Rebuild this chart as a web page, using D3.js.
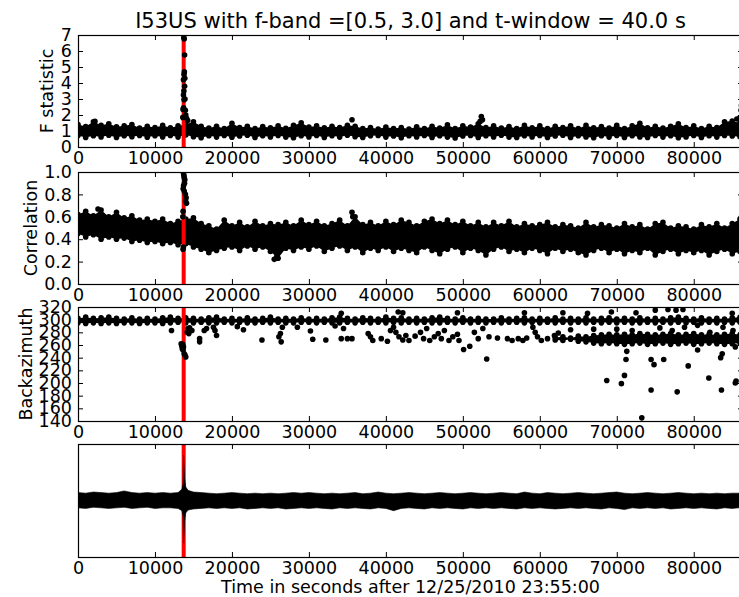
<!DOCTYPE html>
<html>
<head>
<meta charset="utf-8">
<script src="https://cdn.jsdelivr.net/npm/d3@7"></script>
<style>
body { margin: 0; background: #fff; }
svg text { font-family: "DejaVu Sans", sans-serif; fill: #000; }
.tick text { font-size: 17.5px; }
.tick line { stroke: #000; }
</style>
</head>
<body>
<div id="chart"></div>
<script>
// ---- data ----
var title = "I53US with f-band =[0.5, 3.0] and t-window = 40.0 s";
var xLabel = "Time in seconds after 12/25/2010 23:55:00";
var eventTime = 13730;

var xTicks = [0, 10000, 20000, 30000, 40000, 50000, 60000, 70000, 80000];
var fTicks = [0, 1, 2, 3, 4, 5, 6, 7];
var corrTicks = [0, 0.2, 0.4, 0.6, 0.8, 1.0];
var bazTicks = [140, 160, 180, 200, 220, 240, 260, 280, 300, 320];

// times of the envelope samples of the dense dot bands (s)
var sampleTimes = [
    0, 1000, 2000, 3000, 4000, 5000, 6000, 7000, 8000, 9000,
    10000, 11000, 12000, 13000, 14000, 15000, 16000, 17000, 18000, 19000,
    20000, 21000, 22000, 23000, 24000, 25000, 26000, 27000, 28000, 29000,
    30000, 31000, 32000, 33000, 34000, 35000, 36000, 37000, 38000, 39000,
    40000, 41000, 42000, 43000, 44000, 45000, 46000, 47000, 48000, 49000,
    50000, 51000, 52000, 53000, 54000, 55000, 56000, 57000, 58000, 59000,
    60000, 61000, 62000, 63000, 64000, 65000, 66000, 67000, 68000, 69000,
    70000, 71000, 72000, 73000, 74000, 75000, 76000, 77000, 78000, 79000,
    80000, 81000, 82000, 83000, 84000, 85000, 86000
];

// F statistic: top and bottom of the dense band
var fUpper = [
    1.40, 1.28, 1.58, 1.36, 1.45, 1.27, 1.33, 1.40, 1.18, 1.30,
    1.22, 1.35, 1.20, 1.32, 1.40, 1.58, 1.30, 1.18, 1.30, 1.15,
    1.48, 1.22, 1.30, 1.15, 1.28, 1.20, 1.33, 1.17, 1.35, 1.52,
    1.25, 1.32, 1.20, 1.30, 1.22, 1.36, 1.30, 1.15, 1.22, 1.12,
    1.25, 1.15, 1.22, 1.12, 1.26, 1.15, 1.30, 1.18, 1.38, 1.16,
    1.33, 1.25, 1.45, 1.22, 1.32, 1.18, 1.28, 1.15, 1.35, 1.20,
    1.32, 1.15, 1.30, 1.22, 1.33, 1.15, 1.35, 1.20, 1.28, 1.18,
    1.35, 1.15, 1.32, 1.48, 1.20, 1.30, 1.18, 1.30, 1.45, 1.22,
    1.32, 1.15, 1.30, 1.22, 1.58, 1.62, 1.50
];
var fLower = [
    0.72, 0.60, 0.70, 0.63, 0.74, 0.60, 0.70, 0.64, 0.72, 0.61,
    0.70, 0.63, 0.72, 0.62, 0.75, 0.64, 0.58, 0.70, 0.62, 0.72,
    0.61, 0.69, 0.73, 0.60, 0.70, 0.63, 0.72, 0.62, 0.58, 0.70,
    0.63, 0.72, 0.60, 0.70, 0.62, 0.73, 0.64, 0.60, 0.70, 0.72,
    0.62, 0.69, 0.58, 0.70, 0.63, 0.72, 0.60, 0.70, 0.62, 0.56,
    0.69, 0.72, 0.60, 0.70, 0.63, 0.73, 0.62, 0.59, 0.70, 0.63,
    0.72, 0.60, 0.69, 0.73, 0.60, 0.70, 0.63, 0.58, 0.70, 0.62,
    0.72, 0.60, 0.70, 0.63, 0.59, 0.72, 0.62, 0.70, 0.58, 0.63,
    0.72, 0.60, 0.70, 0.62, 0.72, 0.69, 0.64
];
// single dots outside the band [time, F]
var fDots = [
    [13750, 6.85], [13800, 6.75], [13850, 5.75], [13820, 4.7], [13780, 4.55],
    [13700, 4.2], [13880, 4.3], [13850, 3.8], [13760, 3.5], [13700, 3.25],
    [13900, 3.0], [13780, 2.95], [13650, 2.35], [13950, 2.3], [13720, 2.45],
    [14000, 2.0], [14100, 1.8], [14250, 1.65], [13620, 1.85], [2200, 1.6],
    [35600, 1.7], [52400, 1.9], [52550, 1.7], [52250, 1.6],
    [85600, 1.75], [86000, 1.85], [86150, 2.3], [86200, 2.6]
];

// Correlation band
var corrUpper = [
    0.62, 0.65, 0.61, 0.66, 0.60, 0.64, 0.59, 0.61, 0.57, 0.58,
    0.56, 0.58, 0.54, 0.56, 0.58, 0.59, 0.54, 0.52, 0.49, 0.57,
    0.52, 0.55, 0.51, 0.56, 0.52, 0.54, 0.53, 0.55, 0.52, 0.57,
    0.53, 0.56, 0.52, 0.54, 0.57, 0.52, 0.60, 0.53, 0.55, 0.52,
    0.56, 0.53, 0.57, 0.55, 0.52, 0.56, 0.58, 0.54, 0.57, 0.53,
    0.56, 0.52, 0.55, 0.51, 0.55, 0.52, 0.56, 0.51, 0.54, 0.52,
    0.53, 0.55, 0.51, 0.53, 0.52, 0.50, 0.55, 0.51, 0.53, 0.52,
    0.50, 0.54, 0.51, 0.53, 0.49, 0.54, 0.55, 0.50, 0.52, 0.51,
    0.49, 0.53, 0.51, 0.54, 0.50, 0.54, 0.58
];
var corrLower = [
    0.45, 0.42, 0.44, 0.40, 0.42, 0.40, 0.41, 0.38, 0.39, 0.37,
    0.38, 0.36, 0.37, 0.35, 0.36, 0.33, 0.31, 0.28, 0.30, 0.32,
    0.33, 0.30, 0.34, 0.31, 0.33, 0.29, 0.23, 0.32, 0.30, 0.33,
    0.31, 0.34, 0.29, 0.32, 0.34, 0.30, 0.33, 0.28, 0.32, 0.30,
    0.33, 0.29, 0.32, 0.30, 0.28, 0.33, 0.30, 0.27, 0.31, 0.33,
    0.28, 0.32, 0.30, 0.26, 0.31, 0.33, 0.29, 0.31, 0.28, 0.32,
    0.30, 0.27, 0.32, 0.29, 0.31, 0.28, 0.26, 0.30, 0.32, 0.28,
    0.31, 0.27, 0.30, 0.28, 0.32, 0.26, 0.29, 0.31, 0.27, 0.30,
    0.28, 0.30, 0.26, 0.29, 0.31, 0.27, 0.29
];
var corrDots = [
    [13700, 0.99], [13760, 0.97], [13800, 0.95], [13880, 0.93], [13840, 0.90],
    [13720, 0.88], [13660, 0.85], [13800, 0.83], [13950, 0.80], [14050, 0.77],
    [13980, 0.74], [14100, 0.72], [13650, 0.65], [13620, 0.60], [13700, 0.33],
    [13650, 0.31], [2600, 0.67], [25500, 0.22], [25800, 0.24],
    [35600, 0.64], [35700, 0.60], [86200, 0.60], [86300, 0.57]
];

// Backazimuth: main band near 298 deg
var bazUpper = [
    302, 304, 302, 303, 304, 302, 301, 303, 301, 302,
    301, 303, 304, 302, 303, 302, 301, 303, 304, 301,
    302, 301, 303, 301, 302, 304, 301, 302, 301, 303,
    301, 302, 301, 303, 304, 302, 301, 303, 302, 301,
    304, 302, 303, 301, 302, 301, 303, 304, 302, 301,
    303, 301, 302, 301, 301, 303, 301, 302, 303, 301,
    302, 301, 303, 301, 302, 301, 303, 301, 302, 303,
    301, 302, 301, 303, 301, 302, 301, 303, 304, 302,
    301, 303, 301, 302, 301, 303, 304
];
var bazLower = [
    295, 294, 295, 294, 295, 294, 295, 295, 294, 295,
    295, 294, 295, 296, 295, 295, 296, 295, 295, 296,
    295, 296, 295, 295, 296, 295, 296, 295, 295, 296,
    296, 295, 296, 295, 295, 296, 295, 296, 295, 296,
    295, 296, 295, 296, 295, 296, 295, 295, 296, 295,
    296, 295, 296, 295, 296, 295, 296, 296, 295, 296,
    295, 296, 295, 296, 295, 296, 295, 296, 295, 296,
    295, 296, 295, 295, 296, 295, 296, 295, 296, 295,
    296, 295, 296, 295, 296, 295, 296
];
// second band that builds up near 268 deg late in the day
var baz2Times = [
    62000, 63000, 64000, 65000, 66000, 67000, 68000, 69000, 70000, 71000,
    72000, 73000, 74000, 75000, 76000, 77000, 78000, 79000, 80000, 81000,
    82000, 83000, 84000, 85000, 86000
];
var baz2Upper = [
    272, 273, 271, 274, 273, 275, 276, 277, 276, 277,
    276, 278, 277, 276, 277, 278, 276, 277, 278, 276,
    277, 276, 277, 278, 276
];
var baz2Lower = [
    268, 267, 269, 266, 265, 263, 262, 263, 262, 261,
    262, 263, 261, 262, 263, 261, 262, 263, 261, 262,
    263, 262, 261, 262, 263
];
var bazDots = [
    [12150, 283], [13400, 262], [13500, 258], [13550, 254], [13650, 252],
    [13800, 246], [14000, 241], [13600, 261], [13700, 257], [13900, 244],
    [14200, 280], [14300, 286], [14500, 287], [14800, 283], [14400, 278],
    [15800, 270], [15800, 265], [16400, 283], [16700, 286], [17600, 288],
    [17800, 283], [18000, 275], [20700, 289], [21500, 284], [23900, 268],
    [26100, 273], [26300, 278], [26400, 265], [26550, 288], [28500, 288],
    [30200, 282], [30500, 269], [32200, 268], [33400, 290], [34200, 310],
    [34500, 286], [34200, 270], [35000, 270], [35600, 270], [37700, 278],
    [38000, 273], [38300, 267], [39400, 270], [40200, 266], [40600, 283],
    [41000, 288], [41300, 280], [41700, 273], [42200, 268], [42600, 275],
    [43000, 267], [43800, 274], [44500, 280], [44900, 270], [45300, 286],
    [45700, 267], [46300, 273], [46800, 278], [47200, 270], [47600, 283],
    [48200, 267], [48700, 273], [49300, 277], [49500, 267], [50100, 253],
    [50900, 258], [51500, 280], [52000, 270], [52600, 286], [53100, 238],
    [53400, 273], [54500, 271], [55800, 270], [56400, 267], [57200, 270],
    [57800, 267], [58300, 271], [59100, 288], [59400, 280], [59700, 273],
    [60200, 267], [61000, 270], [61900, 275], [62400, 279],
    [68700, 204], [70600, 199], [71000, 212], [71200, 237], [71300, 250],
    [73250, 145], [74460, 189], [74460, 237], [74840, 229], [76100, 237],
    [77850, 186], [79280, 227], [80500, 252], [81960, 208], [83500, 240],
    [83700, 246], [83600, 189], [85400, 200], [85500, 203], [85400, 257],
    [41600, 312], [42200, 311], [49300, 311], [58000, 311], [63000, 311],
    [66200, 310], [69300, 312], [72500, 311], [75000, 315], [76650, 316],
    [77700, 315], [78600, 316], [85000, 310],
    [64000, 284], [67000, 285], [70000, 285], [72000, 283], [75600, 287],
    [77200, 283], [78800, 288], [80500, 291], [82100, 280], [83800, 288],
    [85100, 283]
];

// seismogram envelope (normalised amplitude)
var seisTimes = [
    0, 1000, 2000, 3000, 4000, 5000, 6000, 7000, 8000, 9000,
    10000, 11000, 12000, 13000,
    13500, 13650, 13720, 13780, 13850, 14000, 14300,
    15000, 16000, 17000, 18000, 19000, 20000, 21000, 22000, 23000, 24000,
    25000, 26000, 27000, 28000, 29000, 30000, 31000, 32000, 33000, 34000,
    35000, 36000, 37000, 38000, 39000, 40000, 41000, 42000, 43000, 44000,
    45000, 46000, 47000, 48000, 49000, 50000, 51000, 52000, 53000, 54000,
    55000, 56000, 57000, 58000, 59000, 60000, 61000, 62000, 63000, 64000,
    65000, 66000, 67000, 68000, 69000, 70000, 71000, 72000, 73000, 74000,
    75000, 76000, 77000, 78000, 79000, 80000, 81000, 82000, 83000, 84000, 85000,
    85800, 86000, 86100, 86200, 86400
];
var seisUpper = [
    0.14, 0.13, 0.15, 0.14, 0.13, 0.14, 0.17, 0.14, 0.13, 0.14,
    0.13, 0.14, 0.13, 0.14,
    0.20, 0.30, 0.80, 0.62, 0.40, 0.24, 0.18,
    0.15, 0.14, 0.13, 0.12, 0.13, 0.14, 0.13, 0.12, 0.13, 0.12,
    0.13, 0.12, 0.13, 0.14, 0.13, 0.14, 0.13, 0.12, 0.13, 0.12,
    0.13, 0.14, 0.12, 0.13, 0.15, 0.13, 0.12, 0.13, 0.14, 0.13,
    0.12, 0.13, 0.14, 0.13, 0.12, 0.13, 0.14, 0.13, 0.12, 0.13,
    0.14, 0.13, 0.12, 0.15, 0.13, 0.12, 0.14, 0.13, 0.12, 0.13,
    0.14, 0.13, 0.12, 0.13, 0.14, 0.15, 0.13, 0.12, 0.13, 0.14,
    0.13, 0.12, 0.13, 0.14, 0.13, 0.12, 0.13, 0.12, 0.13, 0.12, 0.13,
    0.13, 0.14, 0.20, 0.28, 0.14
];
var seisLower = [
    -0.13, -0.14, -0.12, -0.13, -0.14, -0.13, -0.12, -0.14, -0.13, -0.12,
    -0.14, -0.13, -0.13, -0.14,
    -0.18, -0.28, -0.76, -0.60, -0.36, -0.22, -0.17,
    -0.15, -0.14, -0.13, -0.14, -0.13, -0.14, -0.13, -0.15, -0.14, -0.13,
    -0.14, -0.13, -0.15, -0.14, -0.13, -0.14, -0.13, -0.14, -0.15, -0.13,
    -0.14, -0.13, -0.14, -0.15, -0.13, -0.14, -0.18, -0.14, -0.13, -0.14,
    -0.15, -0.13, -0.14, -0.13, -0.14, -0.15, -0.13, -0.14, -0.13, -0.14,
    -0.13, -0.14, -0.15, -0.13, -0.14, -0.13, -0.14, -0.15, -0.14, -0.13,
    -0.14, -0.13, -0.14, -0.15, -0.13, -0.14, -0.16, -0.13, -0.14, -0.13,
    -0.14, -0.13, -0.15, -0.14, -0.13, -0.14, -0.13, -0.14, -0.15, -0.13, -0.14,
    -0.13, -0.14, -0.15, -0.14, -0.13
];

// ---- layout ----
var W = 739, H = 597;
var LEFT = 78, RIGHT = 743;
var DOT_R = 2.8;

var svg = d3.select("#chart").append("svg")
    .attr("width", W)
    .attr("height", H);

var x = d3.scaleLinear().domain([0, 86400]).range([LEFT, RIGHT]);

var panels = [
    {top: 35, bottom: 147, domain: [0, 7], ticks: fTicks, fmt: d3.format("d"), label: "F statistic", labelX: 53},
    {top: 172, bottom: 284, domain: [0, 1], ticks: corrTicks, fmt: d3.format(".1f"), label: "Correlation", labelX: 37},
    {top: 307, bottom: 421, domain: [140, 320], ticks: bazTicks, fmt: d3.format("d"), label: "Backazimuth", labelX: 32},
    {top: 444, bottom: 557, domain: [-1, 1], ticks: null}
];

panels.forEach(function(p, i) {
    p.y = d3.scaleLinear().domain(p.domain).range([p.bottom, p.top]);
    svg.append("clipPath").attr("id", "clip" + i)
        .append("rect")
        .attr("x", LEFT).attr("y", p.top)
        .attr("width", RIGHT - LEFT).attr("height", p.bottom - p.top);
    p.g = svg.append("g").attr("clip-path", "url(#clip" + i + ")");
});

function drawBand(p, times, lower, upper) {
    var rows = times.map(function(t, i) { return {t: t, lo: lower[i], hi: upper[i]}; });
    p.g.append("path")
        .datum(rows)
        .attr("fill", "#000")
        .attr("d", d3.area()
            .x(function(d) { return x(d.t); })
            .y0(function(d) { return p.y(d.lo); })
            .y1(function(d) { return p.y(d.hi); }));
    // dots along both edges give the bumpy scatter outline
    var edge = rows.map(function(d) { return [d.t, d.hi]; })
        .concat(rows.map(function(d) { return [d.t, d.lo]; }));
    drawDots(p, edge);
}

function drawDots(p, pts) {
    p.g.append("g").selectAll("circle")
        .data(pts)
        .enter()
        .append("circle")
        .attr("cx", function(d) { return x(d[0]); })
        .attr("cy", function(d) { return p.y(d[1]); })
        .attr("r", DOT_R)
        .attr("fill", "#000");
}

function drawEventLine(p) {
    p.g.append("line")
        .attr("x1", x(eventTime)).attr("x2", x(eventTime))
        .attr("y1", p.top).attr("y2", p.bottom)
        .attr("stroke", "#ff0000")
        .attr("stroke-width", 4);
}

// panel 1: F statistic
drawBand(panels[0], sampleTimes, fLower, fUpper);
drawEventLine(panels[0]);
drawDots(panels[0], fDots);

// panel 2: correlation
drawBand(panels[1], sampleTimes, corrLower, corrUpper);
drawEventLine(panels[1]);
drawDots(panels[1], corrDots);

// panel 3: backazimuth
drawBand(panels[2], sampleTimes, bazLower, bazUpper);
drawBand(panels[2], baz2Times, baz2Lower, baz2Upper);
drawEventLine(panels[2]);
drawDots(panels[2], bazDots);

// panel 4: waveform
var seis = seisTimes.map(function(t, i) { return {t: t, lo: seisLower[i], hi: seisUpper[i]}; });
drawEventLine(panels[3]);
panels[3].g.append("path")
    .datum(seis)
    .attr("fill", "#000")
    .attr("stroke", "#000")
    .attr("stroke-width", 0.6)
    .attr("d", d3.area()
        .x(function(d) { return x(d.t); })
        .y0(function(d) { return panels[3].y(d.lo); })
        .y1(function(d) { return panels[3].y(d.hi); }));

// ---- axes ----
panels.forEach(function(p) {
    var g = svg.append("g");
    g.append("g")
        .attr("transform", "translate(0," + p.bottom + ")")
        .call(d3.axisBottom(x).tickValues(xTicks).tickSize(-5).tickPadding(5).tickFormat(d3.format("d")));
    g.append("g")
        .attr("transform", "translate(0," + p.top + ")")
        .call(d3.axisTop(x).tickValues(xTicks).tickSize(-5).tickFormat(""));
    if (p.ticks) {
        g.append("g")
            .attr("transform", "translate(" + LEFT + ",0)")
            .call(d3.axisLeft(p.y).tickValues(p.ticks).tickSize(-5).tickPadding(6).tickFormat(p.fmt));
        g.append("g")
            .attr("transform", "translate(" + RIGHT + ",0)")
            .call(d3.axisRight(p.y).tickValues(p.ticks).tickSize(-5).tickFormat(""));
        svg.append("text")
            .attr("transform", "translate(" + p.labelX + "," + ((p.top + p.bottom) / 2) + ") rotate(-90)")
            .attr("text-anchor", "middle")
            .style("font-size", "17.5px")
            .text(p.label);
    }
    g.selectAll(".domain").remove();
    g.selectAll("g").attr("font-family", null).attr("font-size", null);
    g.append("rect")
        .attr("x", LEFT + 0.5).attr("y", p.top + 0.5)
        .attr("width", RIGHT - LEFT).attr("height", p.bottom - p.top)
        .attr("fill", "none")
        .attr("stroke", "#000")
        .attr("stroke-width", 1.2);
});

svg.append("text")
    .attr("x", (LEFT + RIGHT) / 2)
    .attr("y", 28)
    .attr("text-anchor", "middle")
    .style("font-size", "21px")
    .text(title);

svg.append("text")
    .attr("x", (LEFT + RIGHT) / 2)
    .attr("y", 593)
    .attr("text-anchor", "middle")
    .style("font-size", "17.5px")
    .text(xLabel);
</script>
</body>
</html>
